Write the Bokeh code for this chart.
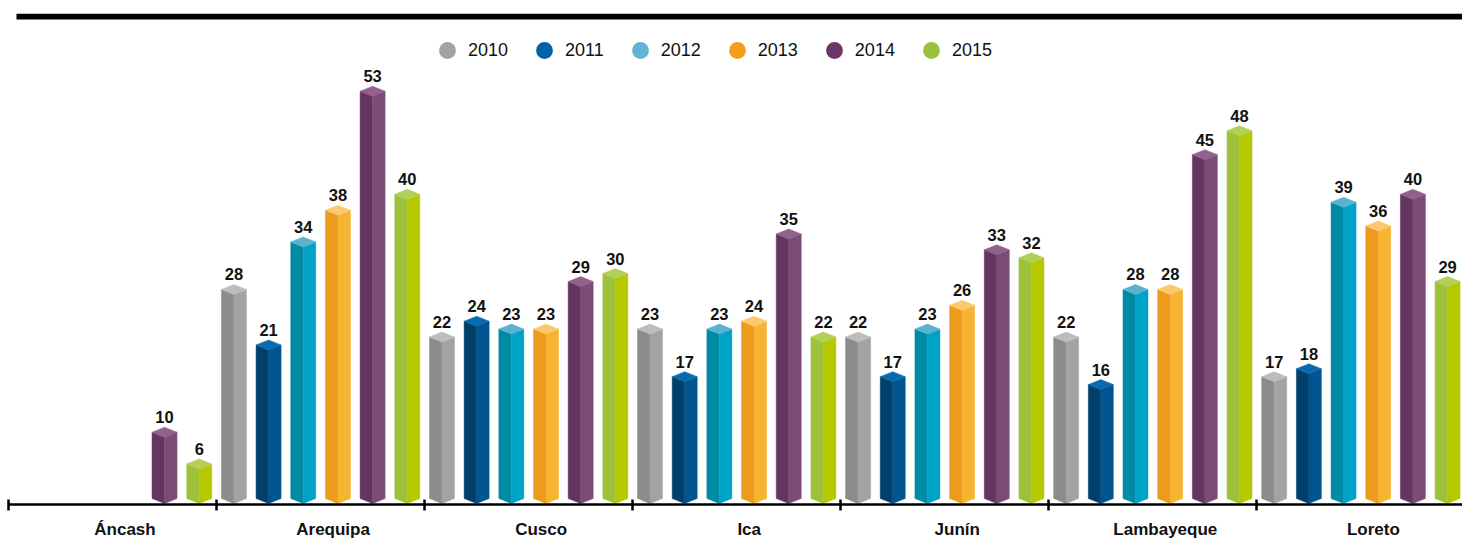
from bokeh.plotting import figure
from bokeh.models import Range1d, FixedTicker, Legend, LegendItem, BoxAnnotation, ColumnDataSource
from bokeh.core.properties import value
from bokeh.embed import file_html
from bokeh.resources import INLINE

regions = ["Áncash", "Arequipa", "Cusco", "Ica", "Junín", "Lambayeque", "Loreto"]
years = ["2010", "2011", "2012", "2013", "2014", "2015"]
v2010 = [None, 28, 22, 23, 22, 22, 17]
v2011 = [None, 21, 24, 17, 17, 16, 18]
v2012 = [None, 34, 23, 23, 23, 28, 39]
v2013 = [None, 38, 23, 24, 26, 28, 36]
v2014 = [10, 53, 29, 35, 33, 45, 40]
v2015 = [6, 40, 30, 22, 32, 48, 29]
series = [v2010, v2011, v2012, v2013, v2014, v2015]

# (legend, left face, right face, top face)
colors = [
    ("#a3a3a5", "#8c8c8e", "#a3a3a5", "#bdbdbf"),
    ("#0063a8", "#00406a", "#005590", "#0a6ab0"),
    ("#60b4d4", "#008ba5", "#00a3c6", "#5ab2d0"),
    ("#f0a01e", "#ec9b1c", "#f7b432", "#fcc86e"),
    ("#6a3766", "#643462", "#7e4b78", "#92608f"),
    ("#9bc23c", "#9cc23a", "#b5c800", "#b3cf58"),
]

W, H = 1462, 540
CAT_PX = 208.06          # pixels per category
X_LEFT_PX = 8.0          # page x of first category boundary
PX_PER_UNIT = 7.93
ZERO_PX = 511.0          # page y of value 0
X0 = -X_LEFT_PX / CAT_PX
X1 = (W - X_LEFT_PX) / CAT_PX
Y1 = ZERO_PX / PX_PER_UNIT
Y0 = -(H - ZERO_PX) / PX_PER_UNIT
PXX = 1.0 / CAT_PX
PXY = 1.0 / PX_PER_UNIT
AXIS_Y = (ZERO_PX - 504) * PXY   # axis line at page y 504

p = figure(width=W, height=H, output_backend="svg", toolbar_location=None,
           x_range=Range1d(X0, X1), y_range=Range1d(Y0, Y1),
           y_axis_location=None, min_border_left=0, min_border_right=0,
           min_border_top=0, min_border_bottom=0,
           background_fill_color="white", border_fill_color="white")
p.outline_line_color = None
p.xgrid.visible = False
p.ygrid.visible = False

half_w = 12.5 * PXX
d = 5 * PXY
base = AXIS_Y + 6 * PXY  # side corners at bottom

L = dict(xs=[], ys=[], c=[])
R = dict(xs=[], ys=[], c=[])
T = dict(xs=[], ys=[], c=[])
lab = dict(x=[], y=[], t=[])
for j, vals in enumerate(series):
    for i, v in enumerate(vals):
        if v is None:
            continue
        xc = i + (j + 0.5) / 6
        L["xs"].append([xc - half_w, xc, xc, xc - half_w])
        L["ys"].append([base, base - d, v - d, v])
        L["c"].append(colors[j][1])
        R["xs"].append([xc, xc + half_w, xc + half_w, xc])
        R["ys"].append([base - d, base, v, v - d])
        R["c"].append(colors[j][2])
        T["xs"].append([xc - half_w, xc, xc + half_w, xc])
        T["ys"].append([v, v + d, v, v - d])
        T["c"].append(colors[j][3])
        lab["x"].append(xc)
        lab["y"].append(v)
        lab["t"].append(str(v))

for dd in (L, R, T):
    p.patches("xs", "ys", source=ColumnDataSource(dd), fill_color="c", line_color="c", line_width=0.5)

p.text("x", "y", text="t", source=ColumnDataSource(lab), text_align="center",
       text_baseline="alphabetic", y_offset=-15,
       text_font=value("Liberation Sans"), text_font_size="16.5px",
       text_font_style="bold", text_color="#111111")

# top rule
p.add_layout(BoxAnnotation(left=8 * PXX, top=Y1 - 13.3 * PXY, bottom=Y1 - 19 * PXY,
                           fill_color="black", fill_alpha=1, line_color=None))

# legend
items = []
nan = float("nan")
for j, y in enumerate(years):
    r = p.scatter(x=[nan], y=[nan], marker="circle", size=17, fill_color=colors[j][0], line_color=None)
    items.append(LegendItem(label=y, renderers=[r]))
leg = Legend(items=items, orientation="horizontal", location=(426, H - 71),
             glyph_width=42, glyph_height=42, label_standoff=-4, spacing=15,
             padding=0, margin=0, border_line_color=None, background_fill_alpha=0,
             label_text_font="Liberation Sans", label_text_font_size="18px",
             label_text_color="#111111")
p.add_layout(leg)

# x axis
centers = [round(i + 0.56, 3) for i in range(len(regions))]
ax = p.xaxis[0]
ax.fixed_location = AXIS_Y
ax.bounds = (0, X1)
ax.ticker = FixedTicker(ticks=centers, minor_ticks=list(range(len(regions) + 1)))
ax.major_label_overrides = {c: r for c, r in zip(centers, regions)}
ax.major_tick_line_color = None
ax.minor_tick_in = 5
ax.minor_tick_out = 6
ax.minor_tick_line_width = 2.5
ax.minor_tick_line_color = "black"
ax.axis_line_width = 2.5
ax.axis_line_color = "black"
ax.major_label_standoff = 9
ax.major_label_text_font = "Liberation Sans"
ax.major_label_text_font_style = "bold"
ax.major_label_text_font_size = "17px"
ax.major_label_text_color = "#111111"

open("out.html", "w").write(file_html(p, INLINE))
